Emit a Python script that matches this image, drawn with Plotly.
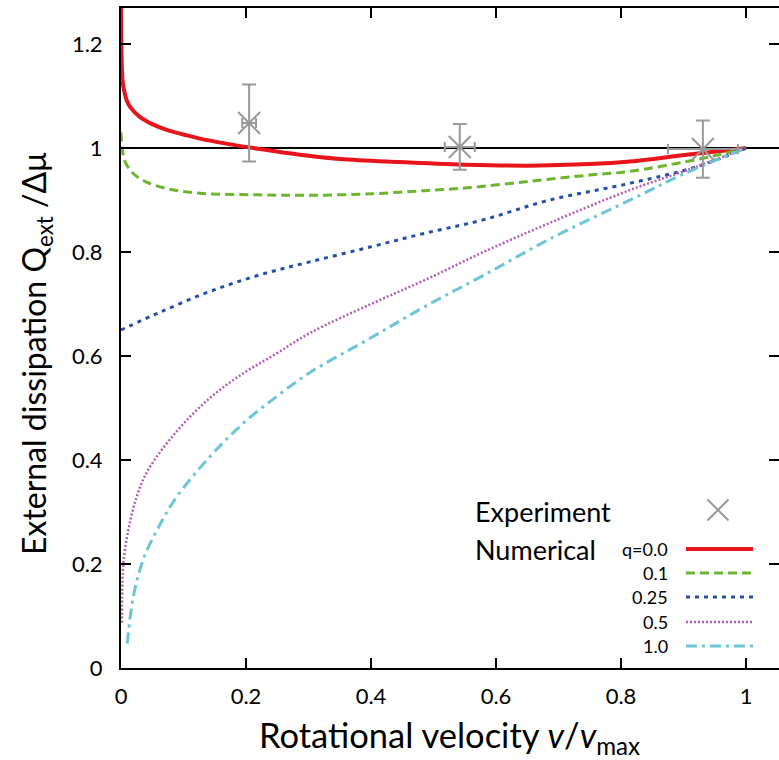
import plotly.graph_objects as go

# ---- data ----
q0_x = [0, 0.0005, 0.0015, 0.003, 0.006, 0.009, 0.015, 0.03, 0.05, 0.073, 0.1, 0.126, 0.18, 0.217, 0.286, 0.35, 0.446, 0.55, 0.654, 0.75, 0.814, 0.905, 0.974, 1.0]
q0_y = [1.30, 1.20, 1.15, 1.124, 1.105, 1.092, 1.078, 1.060, 1.046, 1.035, 1.026, 1.018, 1.006, 0.999, 0.987, 0.979, 0.973, 0.968, 0.966, 0.969, 0.974, 0.987, 0.996, 1.0]

q01_x = [0, 0.002, 0.006, 0.0197, 0.04, 0.073, 0.126, 0.217, 0.302, 0.4, 0.486, 0.55, 0.654, 0.75, 0.814, 0.905, 0.96, 1.0]
q01_y = [1.03, 1.0, 0.975, 0.951, 0.935, 0.922, 0.913, 0.910, 0.909, 0.912, 0.918, 0.923, 0.936, 0.948, 0.955, 0.974, 0.988, 1.0]

q025_x = [0, 0.062, 0.142, 0.222, 0.302, 0.4, 0.486, 0.58, 0.686, 0.814, 0.921, 1.0]
q025_y = [0.65, 0.684, 0.724, 0.756, 0.781, 0.81, 0.836, 0.862, 0.90, 0.932, 0.964, 1.0]

q05_x = [0.0015, 0.002, 0.0037, 0.0117, 0.025, 0.043, 0.089, 0.142, 0.196, 0.249, 0.302, 0.4, 0.486, 0.58, 0.686, 0.814, 0.9, 1.0]
q05_y = [0.087, 0.15, 0.201, 0.265, 0.329, 0.38, 0.455, 0.519, 0.567, 0.605, 0.644, 0.70, 0.746, 0.80, 0.856, 0.919, 0.955, 1.0]

q1_x = [0.010, 0.0197, 0.036, 0.062, 0.089, 0.142, 0.196, 0.249, 0.302, 0.4, 0.486, 0.58, 0.686, 0.825, 0.9, 1.0]
q1_y = [0.047, 0.137, 0.21, 0.275, 0.329, 0.406, 0.471, 0.522, 0.568, 0.635, 0.695, 0.755, 0.825, 0.906, 0.95, 1.0]

exp_x = [0.205, 0.542, 0.931]
exp_y = [1.048, 1.002, 0.998]
exp_xerr = [0.011, 0.024, 0.056]
exp_yerr = [0.074, 0.044, 0.055]

x_ticks = [0, 0.2, 0.4, 0.6, 0.8, 1]
x_ticklabels = ["0", "0.2", "0.4", "0.6", "0.8", "1"]
y_ticks = [0, 0.2, 0.4, 0.6, 0.8, 1, 1.2]
y_ticklabels = ["0", "0.2", "0.4", "0.6", "0.8", "1", "1.2"]

series = [
    ("q=0.0", q0_x, q0_y, "#e8141c", 4, "solid"),
    ("0.1", q01_x, q01_y, "#6cb52d", 3, "9px,5px"),
    ("0.25", q025_x, q025_y, "#2450a8", 3, "4px,5px"),
    ("0.5", q05_x, q05_y, "#b55db5", 2.5, "2px,2px"),
    ("1.0", q1_x, q1_y, "#6cc6d6", 3, "11px,5px,3px,5px"),
]

FONT = "Lato"
W, H = 779, 760
L, R, T, B = 121, 0, 8, 92
pw, ph = W - L - R, H - T - B
X_MAX = pw / 625.0
Y_MAX = ph / 520.0

def px_x(p):
    return (p - L) / pw

def px_y(p):
    return (H - B - p) / ph

fig = go.Figure()

for name, xs, ys, col, lw, dash in series:
    fig.add_trace(go.Scatter(x=xs, y=ys, mode="lines", name=name,
                             line=dict(color=col, width=lw, dash=dash, shape="spline", smoothing=1.0),
                             showlegend=False, hoverinfo="skip"))

fig.add_trace(go.Scatter(
    x=exp_x, y=exp_y, mode="markers", name="Experiment", showlegend=False,
    marker=dict(symbol="x-thin-open", size=22, color="#999999", line=dict(color="#999999", width=2)),
    error_y=dict(type="data", array=exp_yerr, color="#999999", thickness=2, width=7),
    error_x=dict(type="data", array=exp_xerr, color="#999999", thickness=2, width=5),
))

# empty trace to carry the right-hand tick axis
fig.add_trace(go.Scatter(x=[None], y=[None], yaxis="y3", showlegend=False, hoverinfo="skip"))

shapes = [dict(type="line", xref="paper", yref="y", x0=0, x1=1, y0=1, y1=1,
               line=dict(color="black", width=2), layer="below")]

# legend (custom: labels left, keys right)
rows_py = [549, 573, 597, 622, 646]
for (name, xs, ys, col, lw, dash), py in zip(series, rows_py):
    shapes.append(dict(type="line", xref="paper", yref="paper",
                       x0=px_x(686), x1=px_x(753), y0=px_y(py), y1=px_y(py),
                       line=dict(color=col, width=lw, dash=dash)))

annotations = [
    dict(text="Experiment", xref="paper", yref="paper", x=px_x(473), y=px_y(511),
         xanchor="left", yanchor="middle", showarrow=False, font=dict(family=FONT, size=27, color="black")),
    dict(text="Numerical", xref="paper", yref="paper", x=px_x(473), y=px_y(549),
         xanchor="left", yanchor="middle", showarrow=False, font=dict(family=FONT, size=27, color="black")),
]
for (name, *_), py in zip(series, rows_py):
    annotations.append(dict(text=name, xref="paper", yref="paper", x=px_x(670), y=px_y(py),
                            xanchor="right", yanchor="middle", showarrow=False,
                            font=dict(family=FONT, size=18, color="black")))

# axis titles
annotations.append(dict(text="Rotational velocity <i>v</i>/<i>v</i><sub>max</sub>", xref="paper", yref="paper",
                        x=px_x(449), y=px_y(737), xanchor="center", yanchor="middle", showarrow=False,
                        font=dict(family=FONT, size=34.5, color="black")))
annotations.append(dict(text="External dissipation Q<sub>ext</sub> /Δμ", xref="paper", yref="paper",
                        x=px_x(36), y=px_y(354), xanchor="center", yanchor="middle", showarrow=False,
                        textangle=-90, font=dict(family=FONT, size=32, color="black")))

# legend marker for experiment
fig.add_trace(go.Scatter(x=[px_x(718)], y=[px_y(510)], xaxis="x2", yaxis="y2", mode="markers",
                         marker=dict(symbol="x-thin-open", size=21, color="#999999",
                                     line=dict(color="#999999", width=2)),
                         showlegend=False, hoverinfo="skip"))

fig.update_layout(
    width=W, height=H,
    margin=dict(l=L, r=R, t=T, b=B),
    paper_bgcolor="white", plot_bgcolor="white",
    showlegend=False,
    shapes=shapes, annotations=annotations,
    font=dict(family=FONT, color="black"),
    xaxis=dict(range=[0, X_MAX], tickvals=x_ticks, ticktext=x_ticklabels,
               ticks="inside", ticklen=10, tickwidth=2, tickcolor="black",
               showline=True, linecolor="black", linewidth=2, mirror="ticks",
               showgrid=False, zeroline=False, tickfont=dict(family=FONT, size=22),
               ticklabelstandoff=8),
    yaxis=dict(range=[0, Y_MAX], tickvals=y_ticks, ticktext=y_ticklabels,
               ticks="inside", ticklen=10, tickwidth=2, tickcolor="black",
               showline=True, linecolor="black", linewidth=2, mirror=False,
               showgrid=False, zeroline=False, tickfont=dict(family=FONT, size=22),
               ticklabelstandoff=12),
    yaxis3=dict(range=[0, Y_MAX], tickvals=y_ticks, overlaying="y", side="right", anchor="x",
                ticks="inside", ticklen=10, tickwidth=2, tickcolor="black",
                showline=False, showgrid=False, zeroline=False, showticklabels=False),
    xaxis2=dict(domain=[0, 1], range=[0, 1], overlaying="x", visible=False, anchor="y2"),
    yaxis2=dict(domain=[0, 1], range=[0, 1], overlaying="y", visible=False, anchor="x2"),
)

fig.write_html("out.html")
